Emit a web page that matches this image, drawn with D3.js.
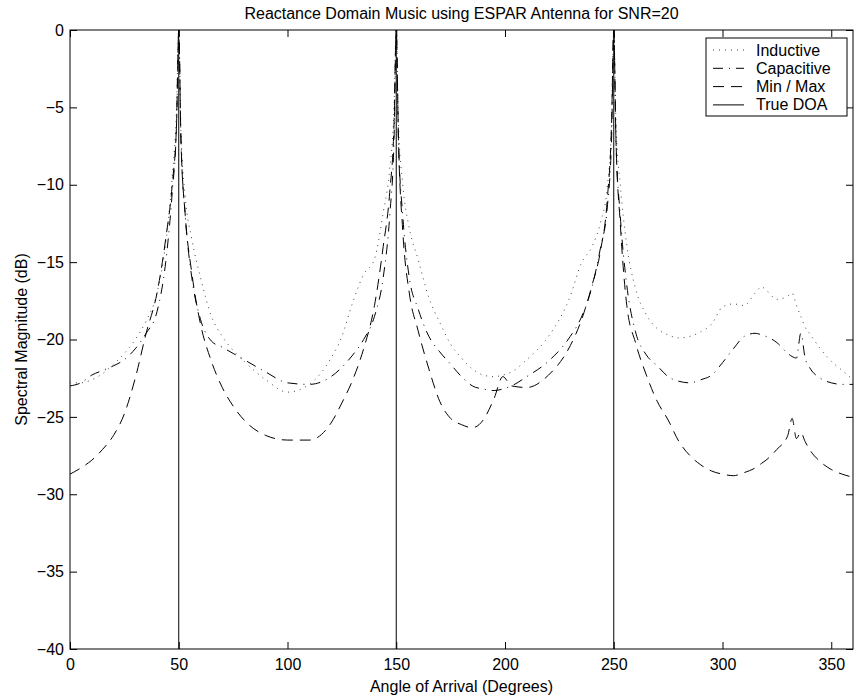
<!DOCTYPE html>
<html>
<head>
<meta charset="utf-8">
<script src="https://cdn.jsdelivr.net/npm/d3@7"></script>
<style>
    body { margin: 0; background: #fff; }
    text { font-family: "Liberation Sans", Arial, Helvetica, sans-serif; }
</style>
</head>
<body>
<svg id="canvas"></svg>
<script>
const angles = [
    0, 5, 10, 15, 20, 25, 30, 35, 40, 44, 47, 49, 50,
    51, 53, 56, 60, 65, 70, 75, 80, 90, 100, 110, 120, 125, 130, 135, 140, 144, 147, 149, 150,
    151, 153, 156, 160, 165, 170, 175, 180, 185, 190, 195, 199, 203, 210, 220, 230, 235, 240, 244, 247, 249, 250,
    251, 253, 256, 260, 265, 270, 275, 280, 285, 290, 295, 300, 305, 310, 315, 318, 320, 325, 330, 332, 334, 336, 338, 340, 345, 350, 355, 360
];

const inductive = [
    -22.8, -22.8, -22.6, -22.2, -21.6, -20.9, -20.0, -18.8, -17.0, -13.8, -9.5, -5.0, 0,
    -6.5, -10.8, -13.5, -16.0, -18.5, -19.8, -20.7, -21.4, -22.6, -23.4, -22.9, -21.2, -19.8, -17.6, -15.8, -14.8, -11.8, -9.0, -5.0, 0,
    -6.0, -10.0, -12.8, -14.8, -17.3, -18.9, -20.3, -21.2, -21.9, -22.3, -22.4, -22.3, -22.1, -21.3, -19.8, -17.2, -15.1, -14.0, -12.4, -10.2, -6.0, 0,
    -6.0, -10.0, -13.9, -16.7, -18.4, -19.3, -19.7, -19.9, -19.8, -19.5, -19.0, -17.9, -17.7, -17.8, -17.0, -16.6, -16.8, -17.4, -17.2, -17.0, -17.8, -18.5, -19.2, -19.6, -20.6, -21.4, -22.0, -22.6
];

const capacitive = [
    -23.0, -22.8, -22.3, -22.0, -21.7, -21.3, -20.6, -19.6, -18.2, -15.0, -10.5, -6.0, 0,
    -7.0, -12.0, -16.0, -18.7, -20.1, -20.5, -20.9, -21.3, -22.1, -22.8, -22.9, -22.4, -21.8, -21.0, -20.0, -18.5, -16.0, -12.0, -7.0, 0,
    -7.0, -12.0, -16.0, -18.0, -19.8, -20.8, -21.6, -22.4, -23.0, -23.2, -23.3, -23.2, -23.0, -22.4, -21.4, -19.8, -18.6, -16.6, -14.0, -11.5, -7.0, 0,
    -7.0, -12.0, -16.5, -19.5, -21.0, -21.7, -22.4, -22.7, -22.8, -22.6, -22.3, -21.5, -20.6, -19.8, -19.6, -19.7, -19.8, -20.2, -20.9, -21.1, -21.2, -19.6, -21.2, -21.8, -22.5, -22.8, -22.9, -22.9
];

const minMax = [
    -28.7, -28.3, -27.8, -27.1, -26.2, -24.8, -22.5, -19.6, -17.0, -13.5, -10.0, -6.0, 0,
    -7.0, -12.0, -15.7, -19.0, -21.4, -23.1, -24.3, -25.2, -26.2, -26.5, -26.5, -25.4, -24.1, -22.6, -20.6, -17.8, -14.0, -10.5, -6.0, 0,
    -7.0, -13.0, -17.0, -19.4, -21.9, -24.0, -25.1, -25.5, -25.7, -25.2, -23.8, -22.4, -23.0, -23.1, -22.3, -20.4, -18.8, -16.5, -14.2, -11.0, -6.0, 0,
    -7.0, -12.5, -17.8, -20.2, -22.3, -24.0, -25.2, -26.6, -27.5, -28.1, -28.5, -28.7, -28.8, -28.6, -28.3, -28.0, -27.8, -27.1, -26.2, -25.1, -26.4, -26.0, -26.6, -27.1, -27.9, -28.4, -28.7, -28.9
];

const trueDoa = [50, 150, 250];

const xTicks = [0, 50, 100, 150, 200, 250, 300, 350];
const yTicks = [0, -5, -10, -15, -20, -25, -30, -35, -40];

const legendNames = ["Inductive", "Capacitive", "Min / Max", "True DOA"];
const legendDash = ["1,5", "10,6,1,6", "11,7", null];

const width = 855;
const height = 698;
const margin = { top: 30, right: 2, bottom: 49, left: 70 };
const plotW = width - margin.left - margin.right;
const plotH = height - margin.top - margin.bottom;

const svg = d3.select("#canvas")
    .attr("width", width)
    .attr("height", height);

const x = d3.scaleLinear().domain([0, 360]).range([0, plotW]);
const y = d3.scaleLinear().domain([-40, 0]).range([plotH, 0]);

const g = svg.append("g")
    .attr("transform", "translate(" + margin.left + "," + margin.top + ")");

// axes, ticks pointing inward on all four sides like matlab
const fmt = d => d < 0 ? "\u2212" + Math.abs(d) : String(d);

const xBottom = g.append("g")
    .attr("transform", "translate(0," + plotH + ")")
    .call(d3.axisBottom(x).tickValues(xTicks).tickSizeInner(-7).tickSizeOuter(0).tickPadding(10).tickFormat(fmt));

g.append("g")
    .call(d3.axisTop(x).tickValues(xTicks).tickSizeInner(-7).tickSizeOuter(0).tickFormat(""));

const yLeft = g.append("g")
    .call(d3.axisLeft(y).tickValues(yTicks).tickSizeInner(-7).tickSizeOuter(0).tickPadding(6).tickFormat(fmt));

g.append("g")
    .attr("transform", "translate(" + plotW + ",0)")
    .call(d3.axisRight(y).tickValues(yTicks).tickSizeInner(-7).tickSizeOuter(0).tickFormat(""));

g.selectAll(".domain").remove();
g.selectAll(".tick line").attr("stroke", "#000");
g.selectAll(".tick text")
    .attr("fill", "#000")
    .style("font-size", "16px");

g.append("rect")
    .attr("width", plotW)
    .attr("height", plotH)
    .attr("fill", "none")
    .attr("stroke", "#000")
    .attr("stroke-width", 1);

// curves
const series = [inductive, capacitive, minMax];

const line = d3.line()
    .x((d, i) => x(angles[i]))
    .y(d => y(d))
    .curve(d3.curveMonotoneX);

g.selectAll(".curve")
    .data(series)
    .enter()
    .append("path")
    .attr("class", "curve")
    .attr("d", d => line(d))
    .attr("fill", "none")
    .attr("stroke", (d, i) => i === 0 ? "#444" : "#000")
    .attr("stroke-width", 1)
    .attr("stroke-dasharray", (d, i) => legendDash[i]);

g.selectAll(".doa")
    .data(trueDoa)
    .enter()
    .append("line")
    .attr("class", "doa")
    .attr("x1", d => x(d))
    .attr("x2", d => x(d))
    .attr("y1", y(-40))
    .attr("y2", y(0))
    .attr("stroke", "#000")
    .attr("stroke-width", 1);

// legend
const legend = g.append("g")
    .attr("transform", "translate(" + (plotW - 147) + ",8)");

legend.append("rect")
    .attr("width", 141)
    .attr("height", 78)
    .attr("fill", "#fff")
    .attr("stroke", "#000");

legend.selectAll(".legend-line")
    .data(legendNames)
    .enter()
    .append("line")
    .attr("class", "legend-line")
    .attr("x1", 7)
    .attr("x2", 38)
    .attr("y1", (d, i) => 12 + i * 18.3)
    .attr("y2", (d, i) => 12 + i * 18.3)
    .attr("stroke", (d, i) => i === 0 ? "#444" : "#000")
    .attr("stroke-dasharray", (d, i) => legendDash[i]);

legend.selectAll(".legend-name")
    .data(legendNames)
    .enter()
    .append("text")
    .attr("class", "legend-name")
    .attr("x", 50)
    .attr("y", (d, i) => 17.5 + i * 18.3)
    .style("font-size", "16px")
    .text(d => d);

// titles
svg.append("text")
    .attr("x", margin.left + plotW / 2)
    .attr("y", 19)
    .attr("text-anchor", "middle")
    .style("font-size", "16px")
    .text("Reactance Domain Music using ESPAR Antenna for SNR=20");

svg.append("text")
    .attr("x", margin.left + plotW / 2)
    .attr("y", 692)
    .attr("text-anchor", "middle")
    .style("font-size", "16px")
    .text("Angle of Arrival (Degrees)");

svg.append("text")
    .attr("transform", "translate(27," + (margin.top + plotH / 2) + ") rotate(-90)")
    .attr("text-anchor", "middle")
    .style("font-size", "16px")
    .text("Spectral Magnitude (dB)");
</script>
</body>
</html>
